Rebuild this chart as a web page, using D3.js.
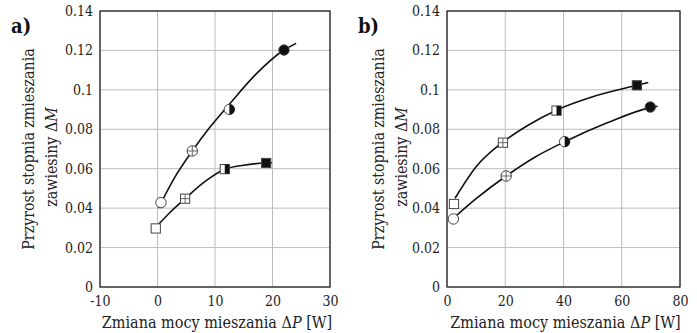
<!DOCTYPE html>
<html><head><meta charset="utf-8">
<script src="https://cdn.jsdelivr.net/npm/d3@7"></script>
<style>
body{margin:0;background:#fff;}
svg{display:block;}
svg text{font-family:"DejaVu Serif Condensed","DejaVu Serif",serif !important;}
</style></head>
<body><svg id="c" width="697" height="333"></svg>
<script>
// ---------- data ----------
const yTicks = [0, 0.02, 0.04, 0.06, 0.08, 0.1, 0.12, 0.14];
const yTickLabels = ["0", "0.02", "0.04", "0.06", "0.08", "0.1", "0.12", "0.14"];
const xTicksA = [-10, 0, 10, 20, 30];
const xTickLabelsA = ["-10", "0", "10", "20", "30"];
const xTicksB = [0, 20, 40, 60, 80];
const xTickLabelsB = ["0", "20", "40", "60", "80"];
const markerKinds = ["open", "cross", "half", "filled"];

// panel a
const aCircleX = [0.6, 6.05, 12.5, 22.0];
const aCircleY = [0.0428, 0.069, 0.0901, 0.1202];
const aSquareX = [-0.3, 4.8, 11.7, 18.9];
const aSquareY = [0.0297, 0.0448, 0.0598, 0.0629];
// trend lines
const aCircleTrendX = [0.15, 3, 6.05, 9, 12.5, 17, 22, 24.1];
const aCircleTrendY = [0.0400, 0.0556, 0.069, 0.0806, 0.0927, 0.1076, 0.1202, 0.1236];
const aSquareTrendX = [-0.3, 2, 4.8, 8, 11.7, 15, 18.9, 19.9];
const aSquareTrendY = [0.0303, 0.0373, 0.0448, 0.0529, 0.0597, 0.0618, 0.0629, 0.0630];

// panel b
const bSquareX = [2.4, 19.2, 37.6, 65.2];
const bSquareY = [0.0421, 0.0732, 0.0895, 0.1023];
const bCircleX = [2.2, 20.3, 40.4, 69.8];
const bCircleY = [0.0345, 0.0563, 0.0737, 0.0913];
const bSquareTrendX = [2.75, 10, 19.2, 28, 37.6, 50, 65.2, 69.1];
const bSquareTrendY = [0.0450, 0.0610, 0.0735, 0.0822, 0.0897, 0.0965, 0.1023, 0.1037];
const bCircleTrendX = [2.75, 10, 20.3, 30, 40.4, 55, 69.8, 72.3];
const bCircleTrendY = [0.0356, 0.0448, 0.0563, 0.0657, 0.0737, 0.0833, 0.0910, 0.0917];

// ---------- drawing ----------
const svg = d3.select("#c");
const plotTop = 11, plotBottom = 287;

function panel(opts) {
  const g = svg.append("g");
  const x = d3.scaleLinear().domain(opts.xDomain).range([opts.left, opts.right]);
  const y = d3.scaleLinear().domain([0, 0.14]).range([plotBottom, plotTop]);

  // grid
  g.selectAll(".gy").data(yTicks).join("line")
    .attr("x1", opts.left).attr("x2", opts.right)
    .attr("y1", d => y(d)).attr("y2", d => y(d))
    .attr("stroke", "#bdbdbd").attr("stroke-width", 1);
  g.selectAll(".gx").data(opts.xTicks).join("line")
    .attr("y1", plotTop).attr("y2", plotBottom)
    .attr("x1", d => x(d)).attr("x2", d => x(d))
    .attr("stroke", "#bdbdbd").attr("stroke-width", 1);

  // frame
  g.append("rect").attr("x", opts.left).attr("y", plotTop)
    .attr("width", opts.right - opts.left).attr("height", plotBottom - plotTop)
    .attr("fill", "none").attr("stroke", "#222").attr("stroke-width", 1.3);

  // axes (labels only)
  const ya = d3.axisLeft(y).tickValues(yTicks).tickSize(0).tickPadding(7)
    .tickFormat((d, i) => yTickLabels[i]);
  const ga = g.append("g").attr("transform", `translate(${opts.left},0)`).call(ya);
  ga.select(".domain").remove();
  ga.selectAll("text").attr("font-size", 14).attr("fill", "#222");
  const xa = d3.axisBottom(x).tickValues(opts.xTicks).tickSize(0).tickPadding(9)
    .tickFormat((d, i) => opts.xTickLabels[i]);
  const gb = g.append("g").attr("transform", `translate(0,${plotBottom})`).call(xa);
  gb.select(".domain").remove();
  gb.selectAll("text").attr("font-size", 14).attr("fill", "#222");

  // titles
  const cx = (opts.left + opts.right) / 2;
  const xt = g.append("text").attr("x", cx + 2).attr("y", 328)
    .attr("text-anchor", "middle").attr("font-size", 16).attr("fill", "#222");
  xt.append("tspan").text("Zmiana mocy mieszania Δ");
  xt.append("tspan").attr("font-style", "italic").text("P");
  xt.append("tspan").text(" [W]");

  g.append("text").attr("transform", `translate(${opts.titleX},149) rotate(-90)`)
    .attr("text-anchor", "middle").attr("font-size", 15.8).attr("fill", "#222")
    .text("Przyrost stopnia zmieszania");
  const t2 = g.append("text").attr("transform", `translate(${opts.titleX + 23},157) rotate(-90)`)
    .attr("text-anchor", "middle").attr("font-size", 15.8).attr("fill", "#222");
  t2.append("tspan").text("zawiesiny Δ");
  t2.append("tspan").attr("font-style", "italic").text("M");

  g.append("text").attr("x", opts.labelX).attr("y", 33)
    .attr("font-size", 20).attr("font-weight", "bold").attr("fill", "#111")
    .text(opts.label);

  // trend lines
  const line = d3.line().x(d => x(d[0])).y(d => y(d[1])).curve(d3.curveMonotoneX);
  opts.trends.forEach(t => {
    g.append("path").datum(d3.zip(t[0], t[1])).attr("d", line)
      .attr("fill", "none").attr("stroke", "#111").attr("stroke-width", 1.6);
  });

  // markers
  opts.series.forEach(s => {
    d3.zip(s.xs, s.ys).forEach((p, i) => {
      drawMarker(g, x(p[0]), y(p[1]), s.shape, markerKinds[i]);
    });
  });
}

function drawMarker(g, cx, cy, shape, kind) {
  const r = shape === "circle" ? 5.2 : 4.6;
  const fill = kind === "filled" ? "#111" : "#fff";
  if (shape === "circle") {
    g.append("circle").attr("cx", cx).attr("cy", cy).attr("r", r)
      .attr("fill", fill).attr("stroke", "#444").attr("stroke-width", 1);
  } else {
    g.append("rect").attr("x", cx - r).attr("y", cy - r).attr("width", 2 * r).attr("height", 2 * r)
      .attr("fill", fill).attr("stroke", "#444").attr("stroke-width", 1);
  }
  if (kind === "cross") {
    g.append("line").attr("x1", cx - r).attr("x2", cx + r).attr("y1", cy).attr("y2", cy)
      .attr("stroke", "#555").attr("stroke-width", 0.9);
    g.append("line").attr("x1", cx).attr("x2", cx).attr("y1", cy - r).attr("y2", cy + r)
      .attr("stroke", "#555").attr("stroke-width", 0.9);
  }
  if (kind === "half") {
    if (shape === "circle") {
      g.append("path").attr("d", `M${cx},${cy - r} A${r},${r} 0 0 1 ${cx},${cy + r} Z`)
        .attr("fill", "#111");
    } else {
      g.append("rect").attr("x", cx).attr("y", cy - r).attr("width", r).attr("height", 2 * r)
        .attr("fill", "#111");
    }
  }
}

panel({
  left: 100, right: 330, xDomain: [-10, 30], xTicks: xTicksA, xTickLabels: xTickLabelsA,
  titleX: 34, labelX: 11, label: "a)",
  trends: [[aCircleTrendX, aCircleTrendY], [aSquareTrendX, aSquareTrendY]],
  series: [
    {xs: aCircleX, ys: aCircleY, shape: "circle"},
    {xs: aSquareX, ys: aSquareY, shape: "square"}
  ]
});
panel({
  left: 447, right: 680, xDomain: [0, 80], xTicks: xTicksB, xTickLabels: xTickLabelsB,
  titleX: 384, labelX: 358, label: "b)",
  trends: [[bSquareTrendX, bSquareTrendY], [bCircleTrendX, bCircleTrendY]],
  series: [
    {xs: bSquareX, ys: bSquareY, shape: "square"},
    {xs: bCircleX, ys: bCircleY, shape: "circle"}
  ]
});
</script>
</body></html>
